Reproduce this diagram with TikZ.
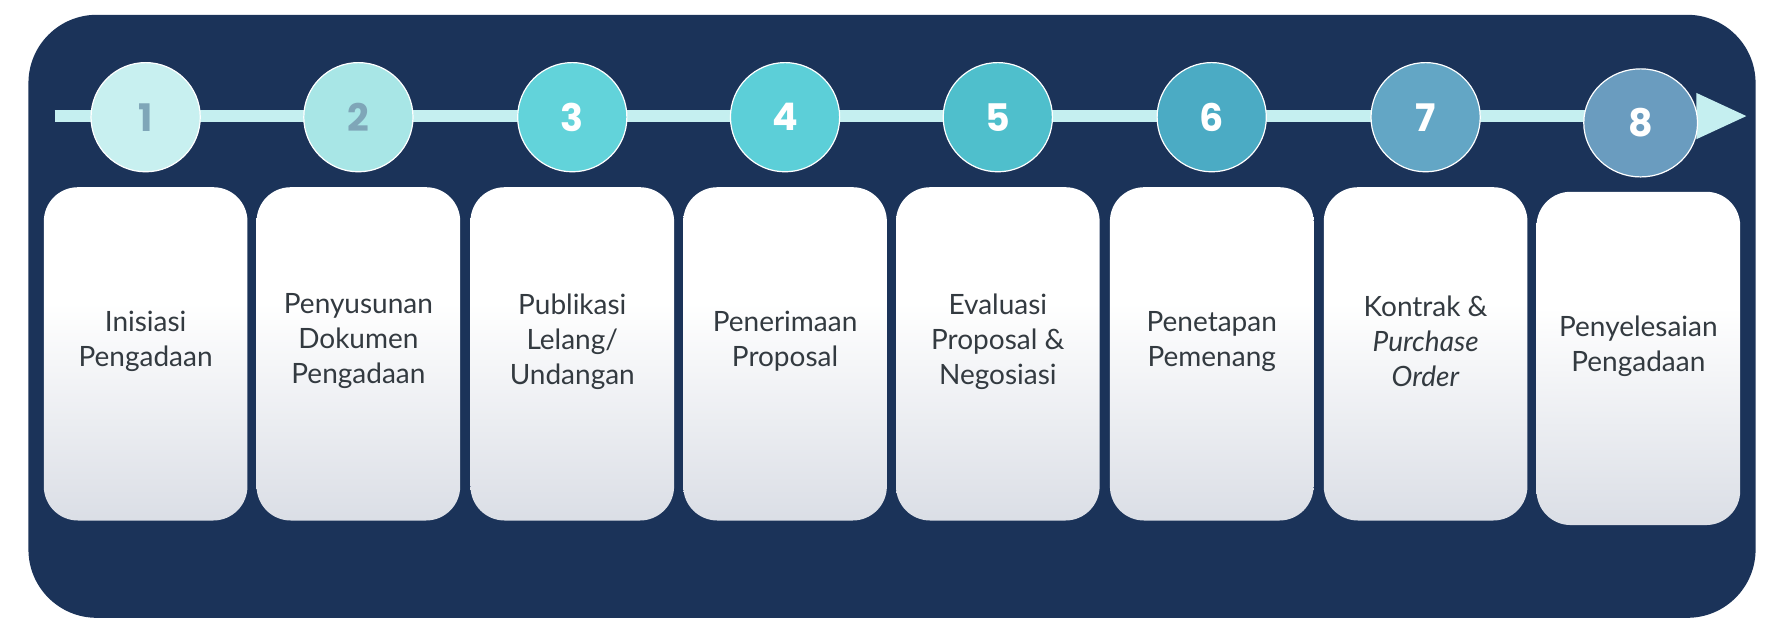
\documentclass[tikz,border=0pt]{standalone}
\usepackage{fontspec}
\setmainfont{Lato}
\newfontfamily\numfont{Poppins}
\usetikzlibrary{arrows.meta,positioning,shapes.geometric}
\definecolor{bgnavy}{HTML}{1B3359}
\definecolor{lineaqua}{HTML}{C5EFF0}
\definecolor{txtgray}{HTML}{333A40}
\definecolor{numgray}{HTML}{7FA6B8}
\definecolor{boxlow}{HTML}{A3ACBF}
\definecolor{cA}{HTML}{C8F0F0}
\definecolor{cB}{HTML}{A8E6E6}
\definecolor{cC}{HTML}{62D3DA}
\definecolor{cD}{HTML}{5CCFD8}
\definecolor{cE}{HTML}{4FBFCC}
\definecolor{cF}{HTML}{4BABC4}
\definecolor{cG}{HTML}{63A6C5}
\definecolor{cH}{HTML}{6A9CBF}
\pgfdeclareverticalshading{stepshade}{3.58cm}{color(0cm)=(boxlow);color(1.6cm)=(boxlow!55!white);color(3.2cm)=(white);color(5.86cm)=(white)}
\tikzset{
  stepbox/.style={rectangle,rounded corners=0.6cm,minimum width=3.58cm,minimum height=5.86cm,shading=stepshade},
  steptext/.style={align=center,text=txtgray,font=\fontsize{14}{17.5}\selectfont},
  stepdot/.style={circle,draw=white,line width=0.6pt,minimum size=1.92cm,font=\numfont\bfseries\fontsize{19}{20}\selectfont,text=white}
}
\begin{document}
\begin{tikzpicture}[x=0.02cm,y=-0.02cm]
	\useasboundingbox (0,0) rectangle (1568,556);
	\fill [bgnavy,rounded corners=1.2cm] (25,13) rectangle (1543,543);
	
	%% timeline
	\coordinate (start) at (48,102);
	\coordinate (tip) at (1536,102);
	\draw [lineaqua,line width=0.2cm,-{Triangle[length=0.9cm,width=0.75cm]}] (start) -- (tip);
	
	%% steps
	\foreach \i/\x/\col/\ncol/\lbl in {
		1/128/cA/numgray/{Inisiasi\\Pengadaan},
		2/315/cB/numgray/{Penyusunan\\Dokumen\\Pengadaan},
		3/503/cC/white/{Publikasi\\Lelang/\\Undangan},
		4/690/cD/white/{Penerimaan\\Proposal},
		5/877/cE/white/{Evaluasi\\Proposal \&\\Negosiasi},
		6/1065/cF/white/{Penetapan\\Pemenang},
		7/1253/cG/white/{Kontrak \&\\\textit{Purchase}\\\textit{Order}}}{
		\node [stepdot,fill=\col,text=\ncol] (dot\i) at (\x,103) {\i};
		\node [stepbox] (box\i) at (\x,311) {};
		\node [steptext] (lbl\i) at ([yshift=0.22cm]box\i.center) {\lbl};
	}
	\node [stepdot,ellipse,fill=cH,minimum width=2cm,minimum height=1.9cm] (dot8) at (1442,108) {8};
	\node [stepbox] (box8) at (1440,315) {};
	\node [steptext] (lbl8) at ([yshift=0.22cm]box8.center) {Penyelesaian\\Pengadaan};
\end{tikzpicture}
\end{document}
